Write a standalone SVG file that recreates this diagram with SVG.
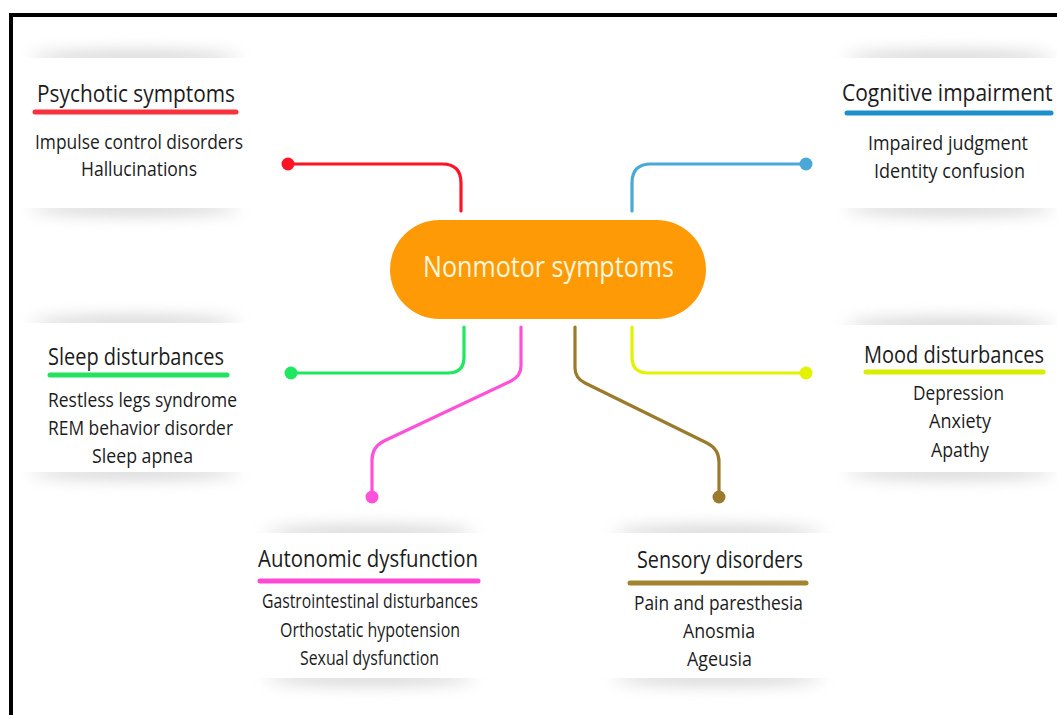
<svg xmlns="http://www.w3.org/2000/svg" width="1057" height="715" viewBox="0 0 1057 715">
  <defs>
    <filter id="soft" x="-30%" y="-300%" width="160%" height="700%">
      <feGaussianBlur stdDeviation="8"/>
    </filter>
    <style>
      text { font-family: "Open Sans", "Noto Sans", "Liberation Sans", sans-serif; fill: #1c1c1c; text-anchor: start; }
      .title { font-size: 24.5px; }
      .item { font-size: 19.5px; }
      .center { font-size: 29px; fill: #fff6de; }
      .shadow { fill: #9a9a9a; opacity: 0.5; filter: url(#soft); }
      .card { fill: #ffffff; }
      .link { fill: none; stroke-width: 3.2; stroke-linecap: round; stroke-linejoin: round; }
      .bar { stroke-width: 5; stroke-linecap: round; }
    </style>
  </defs>

  <rect x="0" y="0" width="1057" height="715" fill="#ffffff"/>

  <!-- frame -->
  <rect x="9" y="13" width="1048" height="4" fill="#000"/>
  <rect x="9" y="13" width="4" height="702" fill="#000"/>

  <!-- cards with soft top/bottom shadows -->
  <g id="cards">
    <ellipse class="shadow" cx="135" cy="58" rx="105" ry="6"/>
    <ellipse class="shadow" cx="135" cy="208" rx="105" ry="6"/>
    <rect class="card" x="18" y="58" width="235" height="150"/>

    <ellipse class="shadow" cx="950" cy="58" rx="105" ry="6"/>
    <ellipse class="shadow" cx="950" cy="208" rx="105" ry="6"/>
    <rect class="card" x="832" y="58" width="225" height="150"/>

    <ellipse class="shadow" cx="135" cy="323" rx="105" ry="6"/>
    <ellipse class="shadow" cx="135" cy="472" rx="105" ry="6"/>
    <rect class="card" x="18" y="323" width="235" height="149"/>

    <ellipse class="shadow" cx="950" cy="325" rx="105" ry="6"/>
    <ellipse class="shadow" cx="950" cy="472" rx="105" ry="6"/>
    <rect class="card" x="832" y="325" width="225" height="147"/>

    <ellipse class="shadow" cx="370" cy="533" rx="105" ry="6"/>
    <ellipse class="shadow" cx="370" cy="678" rx="105" ry="6"/>
    <rect class="card" x="253" y="533" width="235" height="145"/>

    <ellipse class="shadow" cx="718" cy="533" rx="105" ry="6"/>
    <ellipse class="shadow" cx="718" cy="678" rx="105" ry="6"/>
    <rect class="card" x="600" y="533" width="237" height="145"/>
  </g>

  <!-- connectors -->
  <g id="connectors">
    <path class="link" stroke="#ff1426" d="M461,211 V183 Q461,164 442,164 H288"/>
    <circle cx="288" cy="164" r="6.5" fill="#ff1426"/>

    <path class="link" stroke="#4aa8d8" d="M632,211 V183 Q632,164 651,164 H806"/>
    <circle cx="806" cy="164" r="6.5" fill="#4aa8d8"/>

    <path class="link" stroke="#1ee860" d="M464,327 V357 Q464,373 448,373 H291"/>
    <circle cx="291" cy="373" r="6.5" fill="#1ee860"/>

    <path class="link" stroke="#e2f200" d="M632,327 V357 Q632,373 648,373 H806"/>
    <circle cx="806" cy="373" r="6.5" fill="#e2f200"/>

    <path class="link" stroke="#ff50da" d="M521,327 V366 Q521,376 511,381 L384,441 Q372,447 372,460 V496"/>
    <circle cx="372" cy="497" r="6.5" fill="#ff50da"/>

    <path class="link" stroke="#9a7b2c" d="M575,327 V368 Q575,378 585,383 L707,443 Q719,449 719,462 V496"/>
    <circle cx="719" cy="497" r="6.5" fill="#9a7b2c"/>
  </g>

  <!-- central node -->
  <g id="center">
    <rect x="390" y="220" width="316" height="99" rx="49.5" fill="#fd9a06"/>
    <text class="center" x="423" y="277" textLength="251" lengthAdjust="spacingAndGlyphs">Nonmotor symptoms</text>
  </g>

  <g id="psychotic">
    <text class="title" x="37" y="102" textLength="198" lengthAdjust="spacingAndGlyphs">Psychotic symptoms</text>
    <line class="bar" x1="35" y1="112" x2="236" y2="112" stroke="#f8323f"/>
    <text class="item" x="35" y="149" textLength="208" lengthAdjust="spacingAndGlyphs">Impulse control disorders</text>
    <text class="item" x="81" y="176" textLength="116" lengthAdjust="spacingAndGlyphs">Hallucinations</text>
  </g>

  <g id="cognitive">
    <text class="title" transform="translate(842,101) scale(0.857,1)" x="0" y="0">Cognitive impairment</text>
    <line class="bar" x1="847" y1="113" x2="1051" y2="113" stroke="#1d8fcc"/>
    <text class="item" x="868" y="150" textLength="160" lengthAdjust="spacingAndGlyphs">Impaired judgment</text>
    <text class="item" x="874" y="178" textLength="151" lengthAdjust="spacingAndGlyphs">Identity confusion</text>
  </g>

  <g id="sleep">
    <text class="title" x="48" y="365" textLength="176" lengthAdjust="spacingAndGlyphs">Sleep disturbances</text>
    <line class="bar" x1="50" y1="375" x2="227" y2="375" stroke="#22e25e"/>
    <text class="item" x="48" y="407" textLength="189" lengthAdjust="spacingAndGlyphs">Restless legs syndrome</text>
    <text class="item" x="48" y="435" textLength="185" lengthAdjust="spacingAndGlyphs">REM behavior disorder</text>
    <text class="item" x="92" y="463" textLength="101" lengthAdjust="spacingAndGlyphs">Sleep apnea</text>
  </g>

  <g id="mood">
    <text class="title" transform="translate(864,363) scale(0.818,1)" x="0" y="0">Mood disturbances</text>
    <line class="bar" x1="866" y1="372" x2="1043" y2="372" stroke="#d8ee00"/>
    <text class="item" x="913" y="400" textLength="91" lengthAdjust="spacingAndGlyphs">Depression</text>
    <text class="item" x="929" y="428" textLength="62" lengthAdjust="spacingAndGlyphs">Anxiety</text>
    <text class="item" x="931" y="457" textLength="58" lengthAdjust="spacingAndGlyphs">Apathy</text>
  </g>

  <g id="autonomic">
    <text class="title" x="258" y="567" textLength="220" lengthAdjust="spacingAndGlyphs">Autonomic dysfunction</text>
    <line class="bar" x1="260" y1="581" x2="478" y2="581" stroke="#ff48d6"/>
    <text class="item" x="262" y="608" textLength="216" lengthAdjust="spacingAndGlyphs">Gastrointestinal disturbances</text>
    <text class="item" x="280" y="637" textLength="180" lengthAdjust="spacingAndGlyphs">Orthostatic hypotension</text>
    <text class="item" x="300" y="665" textLength="139" lengthAdjust="spacingAndGlyphs">Sexual dysfunction</text>
  </g>

  <g id="sensory">
    <text class="title" x="637" y="568" textLength="166" lengthAdjust="spacingAndGlyphs">Sensory disorders</text>
    <line class="bar" x1="630" y1="583" x2="806" y2="583" stroke="#a3842e"/>
    <text class="item" x="634" y="610" textLength="169" lengthAdjust="spacingAndGlyphs">Pain and paresthesia</text>
    <text class="item" x="683" y="638" textLength="72" lengthAdjust="spacingAndGlyphs">Anosmia</text>
    <text class="item" x="687" y="666" textLength="65" lengthAdjust="spacingAndGlyphs">Ageusia</text>
  </g>
</svg>
